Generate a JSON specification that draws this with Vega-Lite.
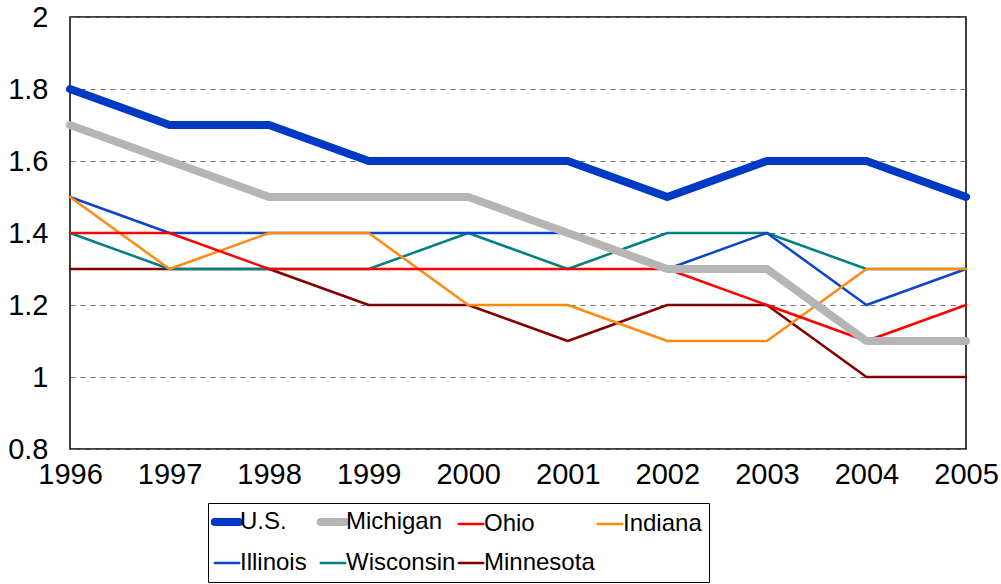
{
  "$schema": "https://vega.github.io/schema/vega-lite/v6.json",
  "width": 896,
  "height": 432,
  "autosize": {"type": "none"},
  "padding": {"left": 70, "top": 17, "right": 35, "bottom": 135},
  "background": "white",
  "config": {
    "font": "Liberation Sans",
    "view": {"stroke": "black", "strokeWidth": 1.5},
    "axis": {"labelFont": "Liberation Sans", "labelColor": "black", "title": null}
  },
  "data": {"values": [
    {"year": 1996, "series": "Minnesota", "value": 1.3},
    {"year": 1997, "series": "Minnesota", "value": 1.3},
    {"year": 1998, "series": "Minnesota", "value": 1.3},
    {"year": 1999, "series": "Minnesota", "value": 1.2},
    {"year": 2000, "series": "Minnesota", "value": 1.2},
    {"year": 2001, "series": "Minnesota", "value": 1.1},
    {"year": 2002, "series": "Minnesota", "value": 1.2},
    {"year": 2003, "series": "Minnesota", "value": 1.2},
    {"year": 2004, "series": "Minnesota", "value": 1.0},
    {"year": 2005, "series": "Minnesota", "value": 1.0},
    {"year": 1996, "series": "Wisconsin", "value": 1.4},
    {"year": 1997, "series": "Wisconsin", "value": 1.3},
    {"year": 1998, "series": "Wisconsin", "value": 1.3},
    {"year": 1999, "series": "Wisconsin", "value": 1.3},
    {"year": 2000, "series": "Wisconsin", "value": 1.4},
    {"year": 2001, "series": "Wisconsin", "value": 1.3},
    {"year": 2002, "series": "Wisconsin", "value": 1.4},
    {"year": 2003, "series": "Wisconsin", "value": 1.4},
    {"year": 2004, "series": "Wisconsin", "value": 1.3},
    {"year": 2005, "series": "Wisconsin", "value": 1.3},
    {"year": 1996, "series": "Illinois", "value": 1.5},
    {"year": 1997, "series": "Illinois", "value": 1.4},
    {"year": 1998, "series": "Illinois", "value": 1.4},
    {"year": 1999, "series": "Illinois", "value": 1.4},
    {"year": 2000, "series": "Illinois", "value": 1.4},
    {"year": 2001, "series": "Illinois", "value": 1.4},
    {"year": 2002, "series": "Illinois", "value": 1.3},
    {"year": 2003, "series": "Illinois", "value": 1.4},
    {"year": 2004, "series": "Illinois", "value": 1.2},
    {"year": 2005, "series": "Illinois", "value": 1.3},
    {"year": 1996, "series": "Indiana", "value": 1.5},
    {"year": 1997, "series": "Indiana", "value": 1.3},
    {"year": 1998, "series": "Indiana", "value": 1.4},
    {"year": 1999, "series": "Indiana", "value": 1.4},
    {"year": 2000, "series": "Indiana", "value": 1.2},
    {"year": 2001, "series": "Indiana", "value": 1.2},
    {"year": 2002, "series": "Indiana", "value": 1.1},
    {"year": 2003, "series": "Indiana", "value": 1.1},
    {"year": 2004, "series": "Indiana", "value": 1.3},
    {"year": 2005, "series": "Indiana", "value": 1.3},
    {"year": 1996, "series": "Ohio", "value": 1.4},
    {"year": 1997, "series": "Ohio", "value": 1.4},
    {"year": 1998, "series": "Ohio", "value": 1.3},
    {"year": 1999, "series": "Ohio", "value": 1.3},
    {"year": 2000, "series": "Ohio", "value": 1.3},
    {"year": 2001, "series": "Ohio", "value": 1.3},
    {"year": 2002, "series": "Ohio", "value": 1.3},
    {"year": 2003, "series": "Ohio", "value": 1.2},
    {"year": 2004, "series": "Ohio", "value": 1.1},
    {"year": 2005, "series": "Ohio", "value": 1.2},
    {"year": 1996, "series": "Michigan", "value": 1.7},
    {"year": 1997, "series": "Michigan", "value": 1.6},
    {"year": 1998, "series": "Michigan", "value": 1.5},
    {"year": 1999, "series": "Michigan", "value": 1.5},
    {"year": 2000, "series": "Michigan", "value": 1.5},
    {"year": 2001, "series": "Michigan", "value": 1.4},
    {"year": 2002, "series": "Michigan", "value": 1.3},
    {"year": 2003, "series": "Michigan", "value": 1.3},
    {"year": 2004, "series": "Michigan", "value": 1.1},
    {"year": 2005, "series": "Michigan", "value": 1.1},
    {"year": 1996, "series": "U.S.", "value": 1.8},
    {"year": 1997, "series": "U.S.", "value": 1.7},
    {"year": 1998, "series": "U.S.", "value": 1.7},
    {"year": 1999, "series": "U.S.", "value": 1.6},
    {"year": 2000, "series": "U.S.", "value": 1.6},
    {"year": 2001, "series": "U.S.", "value": 1.6},
    {"year": 2002, "series": "U.S.", "value": 1.5},
    {"year": 2003, "series": "U.S.", "value": 1.6},
    {"year": 2004, "series": "U.S.", "value": 1.6},
    {"year": 2005, "series": "U.S.", "value": 1.5}
  ]},
  "mark": {"type": "line", "strokeCap": "round", "strokeJoin": "round", "clip": false},
  "encoding": {
    "x": {
      "field": "year", "type": "quantitative",
      "scale": {"domain": [1996, 2005], "nice": false, "zero": false},
      "axis": {
        "values": [1996, 1997, 1998, 1999, 2000, 2001, 2002, 2003, 2004, 2005],
        "format": "d", "grid": false, "ticks": false, "domain": false,
        "labelFontSize": 29, "labelPadding": 11, "labelFlush": false,
        "labelOverlap": false, "labelBound": false
      }
    },
    "y": {
      "field": "value", "type": "quantitative",
      "scale": {"domain": [0.8, 2], "nice": false, "zero": false},
      "axis": {
        "values": [0.8, 1, 1.2, 1.4, 1.6, 1.8, 2],
        "format": "~g", "grid": true, "gridColor": "#6e6e6e", "gridDash": [5, 5],
        "gridWidth": 1, "gridOpacity": 1, "ticks": false, "domain": false,
        "labelFontSize": 29, "labelPadding": 22, "labelOverlap": false, "labelBound": false
      }
    },
    "color": {
      "field": "series", "type": "nominal",
      "scale": {
        "domain": ["U.S.", "Michigan", "Ohio", "Indiana", "Illinois", "Wisconsin", "Minnesota"],
        "range": ["#0039c4", "#b5b5b5", "#ff0000", "#ff8a10", "#0c44cc", "#008080", "#800000"]
      },
      "legend": {
        "title": null, "orient": "none", "legendX": 138, "legendY": 486,
        "direction": "horizontal", "columns": 4,
        "labelFont": "Liberation Sans", "labelFontSize": 24, "labelColor": "black",
        "labelOffset": 1, "labelLimit": 300,
        "symbolType": "stroke", "symbolSize": 600,
        "strokeColor": "black", "padding": 7,
        "rowPadding": 13, "columnPadding": -3,
        "encode": {
          "symbols": {
            "update": {
              "strokeWidth": {"signal": "datum.value === 'U.S.' || datum.value === 'Michigan' ? 8 : 2.5"},
              "strokeCap": {"value": "round"}
            }
          }
        }
      }
    },
    "strokeWidth": {
      "condition": {"test": "datum.series === 'U.S.' || datum.series === 'Michigan'", "value": 8},
      "value": 2.5
    }
  }
}
